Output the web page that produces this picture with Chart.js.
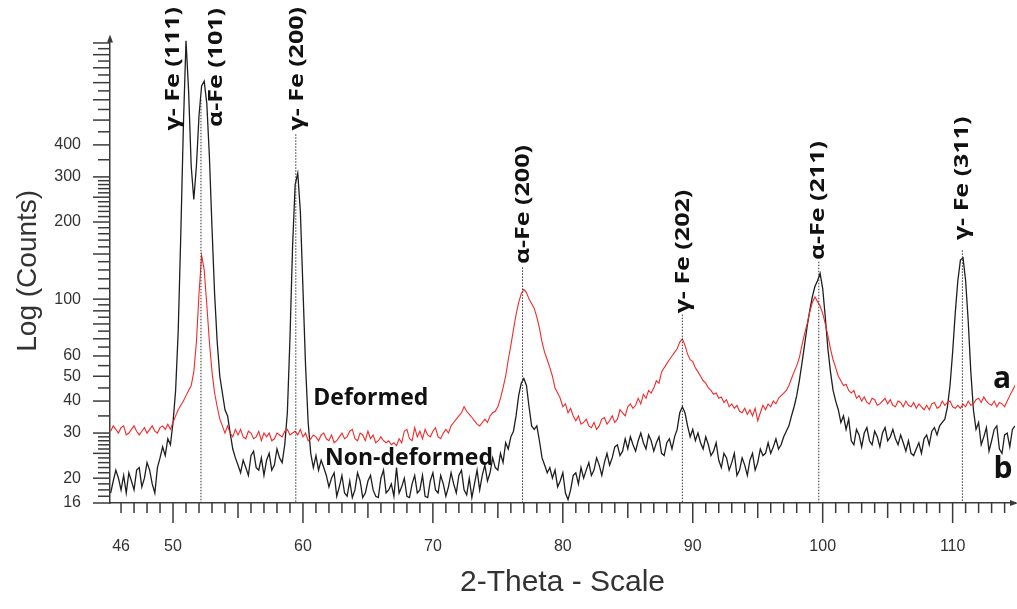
<!DOCTYPE html>
<html>
<head>
<meta charset="utf-8">
<title>XRD</title>
<script src="https://cdn.jsdelivr.net/npm/chart.js@4.4.1/dist/chart.umd.min.js"></script>
<style>
  html, body { margin: 0; padding: 0; background: #fff; }
  #contenedor { width: 1017px; height: 609px; position: relative; }
</style>
</head>
<body>
<div id="contenedor"><canvas id="grafico"></canvas></div>
<script>
// ---- BARRIDO 2-THETA (grilla de medición) ----
const inicioBarrido = 45.2
const pasoBarrido = 0.2

// ---- CUENTAS MUESTRA DEFORMADA (a) ----
const deformada = [
  30.5, 32, 31, 30, 31.5, 32, 29.5, 30, 31, 32,
  30.5, 29.5, 30.5, 31.5, 30, 31, 32, 30.5, 30, 31.5,
  32, 31, 32.5, 31, 33, 35, 37, 38.5, 40, 42,
  44, 46, 52, 68, 105, 148, 130, 95, 68, 52,
  43, 38, 34, 32, 30, 32, 30, 29, 31, 29.5,
  31, 29, 28.5, 30.5, 30, 28.5, 29, 30.5, 28, 30,
  29, 30, 28, 28.5, 30, 29.5, 29, 30.5, 31, 29.5,
  30, 30.5, 29.5, 31, 29, 30, 28, 28.5, 29.5, 29,
  28, 29.5, 30, 28.5, 28, 29.5, 27.5, 28, 29, 30,
  28.5, 29, 30.5, 31, 28.5, 28, 30, 29.5, 28, 30.5,
  28.5, 29.5, 27.5, 28, 29, 28, 27.5, 28, 27, 27.5,
  26.8, 28.5, 27.5, 30.5, 31, 28.5, 28, 31.5, 29, 30.5,
  28.5, 31, 29.5, 29, 30.5, 31.5, 29, 28.5, 30, 31,
  30, 32, 33, 34, 35, 36, 38, 36.5, 35.5, 34.5,
  33.5, 32.5, 32, 33, 34, 33, 35, 36, 36.5, 38,
  41, 45, 50, 58, 66, 76, 87, 97, 105, 109,
  106, 100, 96, 92, 85, 77, 68, 62, 58, 54,
  50, 45, 43, 41, 38, 39, 36, 37.5, 35, 33.5,
  35, 32.5, 33, 34, 32, 31.5, 33, 31, 32, 34,
  34.5, 32.5, 33.5, 35, 33, 34, 37, 36, 35, 38,
  39, 37.5, 38.5, 41, 39, 42.5, 41, 44, 43, 45,
  48, 47, 52, 54, 56, 58, 60, 62, 64, 68,
  70, 66, 61, 58, 57, 54, 52, 50, 48, 47,
  45, 44, 42.5, 43, 41, 41.5, 39.5, 40.5, 38, 39,
  37.5, 38.5, 36.5, 36, 37.5, 35.5, 37, 35, 37.5, 33.5,
  36, 38.5, 37, 39, 38, 40, 39, 41, 42, 43,
  44, 46, 49, 52, 55, 59, 66, 73, 80, 89,
  97, 102, 98, 94, 88, 80, 72, 64, 58, 54,
  50, 48, 46, 46.5, 44, 43, 44, 41, 42, 40,
  41.5, 39.5, 39, 41, 40.5, 38.5, 39, 40, 41, 39,
  40.5, 38.5, 38, 40, 39.5, 38, 40, 38.5, 38, 39.5,
  37.5, 39, 38, 37, 38.5, 37, 39, 39.5, 37.5, 38,
  40, 38.5, 39.5, 40, 38, 37.5, 38.5, 37.5, 39, 38,
  40, 38.5, 39, 40.5, 41, 39.5, 41.5, 40, 39, 38.5,
  40, 38, 39.5, 39, 38, 40, 42, 44, 46
]

// ---- CUENTAS MUESTRA SIN DEFORMAR (b) ----
const noDeformada = [
  17.5, 19.5, 21.5, 20, 18, 20.5, 17.5, 21, 19.5, 18,
  21.5, 22, 18.5, 20, 23, 21.5, 19, 17.5, 22, 24,
  26.5, 24.5, 28.5, 27, 33, 44, 75, 180, 480, 1020,
  650, 330, 245, 330, 520, 680, 710, 580, 360, 190,
  105, 68, 50, 43, 37, 35, 30, 26, 24, 22.5,
  21, 23.5, 22, 20.5, 24.5, 25.5, 22, 21.5, 24, 20.5,
  23.5, 25, 21.5, 22.5, 26, 24, 23, 27, 36, 70,
  160, 280, 310, 220, 110, 55, 33, 25, 22, 24.5,
  21.5, 23.5, 22, 20.5, 18.5, 20, 21, 17, 18.5, 20.5,
  17.5, 17, 19.5, 16.8, 18, 21, 19.5, 16.8, 17.5, 19.5,
  20.5, 18, 17, 16.8, 20, 21.5, 17.5, 18, 19, 17,
  22, 17.5, 18.5, 20, 17, 16.8, 19, 20.5, 17.5, 18,
  20.5, 17, 16.8, 19.5, 21, 18, 17.5, 20.5, 19, 17,
  18.5, 21, 19, 17.5, 20.5, 21.5, 18, 17.2, 20, 16.8,
  19, 21.5, 18, 20.5, 22.5, 19.5, 21, 24, 22, 21.5,
  25, 23, 27.5, 26, 29, 30.5, 35, 42, 47, 49,
  46, 38, 32, 31, 32, 28, 24, 22.5, 21, 22,
  20, 21.5, 18.5, 19.5, 21, 17.5, 16.5, 18, 20.5, 21,
  19, 22, 20, 21.5, 23, 20.5, 21.5, 24, 22.5, 20.5,
  23, 25, 22.5, 24, 26.5, 27, 24.5, 25.5, 28.5, 26,
  29, 27, 25.5, 28, 30, 27.5, 26, 29.5, 28, 25.5,
  27.5, 29, 25, 24.5, 27.5, 28.5, 26, 29, 31, 36,
  38, 36, 32, 29, 31, 28, 30, 27.5, 26, 29,
  27, 24.5, 25.5, 27.5, 23.5, 22, 25, 24, 21.5, 23,
  25, 20.5, 21.5, 24, 22.5, 20.5, 23.5, 25, 21.5, 23,
  26, 24.5, 25, 27.5, 25, 26.5, 28.5, 26, 27, 29,
  30.5, 32, 35, 38, 42, 48, 56, 66, 78, 90,
  102, 112, 118, 126, 110, 85, 64, 52, 44, 40,
  37, 33, 35, 31, 34, 28, 27, 31, 29.5, 26.5,
  30, 31.5, 28, 27, 30.5, 29, 26.5, 30, 31.5, 28,
  29, 31, 28.5, 27, 29.5, 27.5, 25.5, 28, 25, 24.5,
  26, 27.5, 25, 28.5, 29.5, 27, 30.5, 31.5, 29.5, 32,
  33, 34, 38, 46, 62, 88, 118, 142, 145, 118,
  82, 52, 37, 31, 33, 27, 29, 31.5, 25.5, 28,
  31, 32, 26, 25, 29.5, 30, 26.5, 31, 32
]

// ---- MARCAS DE LOS EJES ----
const ticksX = [46, 50, 60, 70, 80, 90, 100, 110]
const ticksY = [16, 20, 30, 40, 50, 60, 100, 200, 300, 400]

// ---- PICOS INDEXADOS ----
const picosNombres = ['γ- Fe (111)', 'α-Fe (101)', 'γ- Fe (200)', 'α-Fe (200)', 'γ- Fe (202)', 'α-Fe (211)', 'γ- Fe (311)']
const picosAngulos = [51.0, 52.15, 59.45, 76.9, 89.2, 99.7, 110.75]
const picosTope = [null, 600, 440, 133, 87, 140, 155]
const etiquetaAngulos = [50.0, 53.3, 59.6, 76.95, 89.25, 99.65, 110.75]
const etiquetaBases = [455, 470, 455, 137, 88, 142, 170]

// ---- TEXTOS DE LAS CURVAS ----
const textos = ['Deformed', 'Non-deformed', 'a', 'b']
const textosAngulos = [60.8, 61.7, 113.1, 113.15]
const textosCuentas = [38.6, 22.5, 44.9, 20.0]

// ---- ARMAR PUNTOS ----
let angulos = deformada.map((_, i) => +(inicioBarrido + i * pasoBarrido).toFixed(1))
let puntosA = angulos.map((t, i) => ({ x: t, y: deformada[i] }))
let puntosB = angulos.map((t, i) => ({ x: t, y: noDeformada[i] }))

let lineasPicos = []
picosAngulos.forEach((t, i) => {
  if (picosTope[i] == null) return
  lineasPicos.push({
    data: [{ x: t, y: picosTope[i] }, { x: t, y: 16 }],
    borderColor: '#333',
    borderWidth: 1,
    borderDash: [1.5, 1.5],
    pointRadius: 0,
    fill: false
  })
})

const colorEje = '#3a3a3a'

// ---- PLUGIN: MARCAS MENORES, FLECHAS Y TEXTOS ----
const decoracion = {
  id: 'decoracion',
  afterDraw(chart) {
    const { ctx, scales: { x, y } } = chart
    ctx.save()
    ctx.strokeStyle = colorEje
    ctx.lineWidth = 1.5

    // eje X: cada grado, media cada 5, larga cada 10
    for (let v = 46; v <= 114; v++) {
      const px = x.getPixelForValue(v)
      const largo = v % 10 === 0 ? 20 : (v % 5 === 0 ? 15 : 10)
      ctx.beginPath()
      ctx.moveTo(px, y.bottom)
      ctx.lineTo(px, y.bottom + largo)
      ctx.stroke()
    }

    // eje Y logarítmico
    let marcasY = []
    for (let v = 16; v <= 30; v++) marcasY.push(v)
    for (let v = 35; v <= 100; v += 5) marcasY.push(v)
    for (let v = 110; v <= 300; v += 10) marcasY.push(v)
    for (let v = 350; v <= 1000; v += 50) marcasY.push(v)
    marcasY.forEach(v => {
      const py = y.getPixelForValue(v)
      const larga = v <= 30 ? (v === 16 || v % 5 === 0) : v <= 100 ? v % 10 === 0 : v <= 300 ? v % 50 === 0 : v % 100 === 0
      ctx.beginPath()
      ctx.moveTo(x.left - (larga ? 17 : 12), py)
      ctx.lineTo(x.left, py)
      ctx.stroke()
    })

    // flechas al final de cada eje
    ctx.fillStyle = colorEje
    ctx.beginPath()
    ctx.moveTo(x.left, y.top - 4)
    ctx.lineTo(x.left - 3, y.top + 4)
    ctx.lineTo(x.left + 3, y.top + 4)
    ctx.fill()
    ctx.beginPath()
    ctx.moveTo(x.right + 3, y.bottom)
    ctx.lineTo(x.right - 5, y.bottom - 3)
    ctx.lineTo(x.right - 5, y.bottom + 3)
    ctx.fill()

    // nombres de los picos (verticales, algo estirados a lo largo)
    ctx.fillStyle = '#111'
    ctx.font = 'bold 20px "Open Sans"'
    ctx.textAlign = 'left'
    ctx.textBaseline = 'middle'
    picosNombres.forEach((nombre, i) => {
      ctx.save()
      ctx.translate(x.getPixelForValue(etiquetaAngulos[i]), y.getPixelForValue(etiquetaBases[i]))
      ctx.rotate(-Math.PI / 2)
      ctx.scale(1.25, 1)
      ctx.fillText(nombre, 0, 0)
      ctx.restore()
    })

    // nombres de las curvas
    ctx.textBaseline = 'alphabetic'
    textos.forEach((t, i) => {
      ctx.font = t.length > 1 ? 'bold 23px "Open Sans"' : 'bold 30px "Open Sans"'
      ctx.fillText(t, x.getPixelForValue(textosAngulos[i]), y.getPixelForValue(textosCuentas[i]))
    })
    ctx.restore()
  }
}

// ---- GRÁFICO ----
const config = {
  type: 'line',
  data: {
    datasets: [
      ...lineasPicos,
      {
        label: 'Deformed',
        data: puntosA,
        borderColor: '#f22a2a',
        borderWidth: 1.1,
        pointRadius: 0,
        tension: 0
      },
      {
        label: 'Non-deformed',
        data: puntosB,
        borderColor: '#1e1e1e',
        borderWidth: 1.3,
        pointRadius: 0,
        tension: 0
      }
    ]
  },
  options: {
    responsive: true,
    maintainAspectRatio: false,
    animation: false,
    layout: { padding: { top: 34, right: 2, left: 0, bottom: 0 } },
    plugins: { legend: { display: false }, tooltip: { enabled: false } },
    scales: {
      x: {
        type: 'linear',
        min: 45.15,
        max: 114.8,
        afterFit: s => { s.height = 106 },
        afterBuildTicks: s => { s.ticks = ticksX.map(v => ({ value: v })) },
        grid: { display: true, drawOnChartArea: false, drawTicks: false },
        border: { display: true, color: colorEje, width: 1.5 },
        ticks: {
          autoSkip: false,
          maxRotation: 0,
          padding: 34,
          color: '#333',
          font: { family: '"Liberation Sans"', size: 16 },
          callback: v => String(v)
        },
        title: {
          display: true,
          text: '2-Theta - Scale',
          color: '#333',
          font: { family: '"Liberation Sans"', size: 30 },
          padding: { top: 0, bottom: 8 }
        }
      },
      y: {
        type: 'logarithmic',
        min: 16,
        max: 1040,
        afterFit: s => { s.width = 110 },
        afterBuildTicks: s => { s.ticks = ticksY.map(v => ({ value: v })) },
        grid: { display: true, drawOnChartArea: false, drawTicks: false },
        border: { display: true, color: colorEje, width: 1.5 },
        ticks: {
          autoSkip: false,
          padding: 29,
          color: '#333',
          font: { family: '"Liberation Sans"', size: 16 },
          callback: v => String(v)
        },
        title: {
          display: true,
          text: 'Log (Counts)',
          color: '#333',
          font: { family: '"Liberation Sans"', size: 28 },
          padding: { top: 11, bottom: 0 }
        }
      }
    }
  },
  plugins: [decoracion]
}

let nuevoGrafico = new Chart(document.querySelector('#grafico'), config)
</script>
</body>
</html>
